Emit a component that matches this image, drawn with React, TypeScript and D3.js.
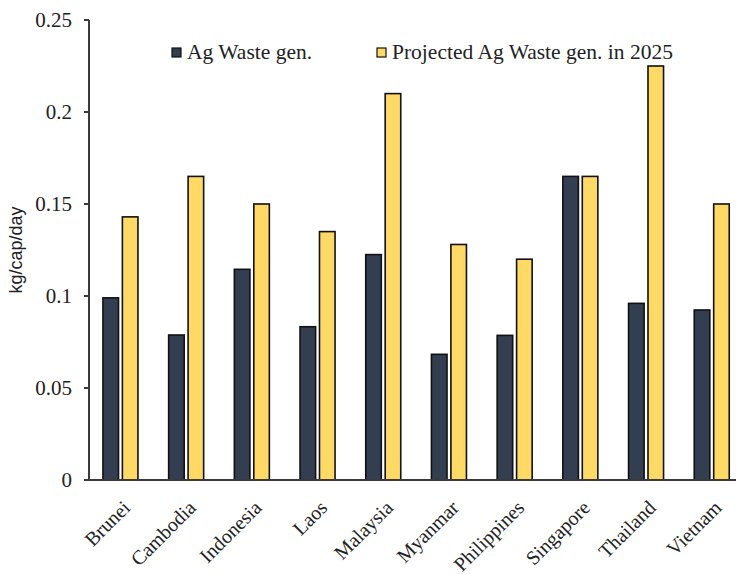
import React from "react";
import * as d3 from "d3";

const countries = ["Brunei", "Cambodia", "Indonesia", "Laos", "Malaysia", "Myanmar", "Philippines", "Singapore", "Thailand", "Vietnam"];
const seriesNames = ["Ag Waste gen.", "Projected Ag Waste gen. in 2025"];
const agWaste = [0.099, 0.0788, 0.1145, 0.0833, 0.1225, 0.0683, 0.0786, 0.165, 0.096, 0.0924];
const projected2025 = [0.143, 0.165, 0.15, 0.135, 0.21, 0.128, 0.12, 0.165, 0.225, 0.15];
const yTicks = [0, 0.05, 0.1, 0.15, 0.2, 0.25];
const yTickLabels = ["0", "0.05", "0.1", "0.15", "0.2", "0.25"];
const colors = ["#333F50", "#FFD966"];

const W = 736;
const H = 574;
const axisX = 89;
const serif = "'Liberation Serif', 'Times New Roman', serif";

export default function App() {
  const y = d3.scaleLinear().domain([0, 0.25]).range([480, 20]);
  const x = d3.scaleBand<string>().domain(countries).range([87.6, 744.6]).padding(0);
  const groupW = 35;
  const sub = d3.scaleBand<string>().domain(seriesNames).range([0, groupW]).paddingInner(0.2);
  const series = [agWaste, projected2025];
  const axisColor = "#3a3a3a";

  return (
    <svg width={W} height={H} style={{ position: "absolute", left: 0, top: 0, background: "#fff" }}>
      {/* bars */}
      {countries.map((c, i) => {
        const cx = (x(c) ?? 0) + x.bandwidth() / 2;
        return (
          <g key={c}>
            {series.map((vals, s) => (
              <rect
                key={s}
                x={cx - groupW / 2 + (sub(seriesNames[s]) ?? 0)}
                y={y(vals[i])}
                width={sub.bandwidth()}
                height={y(0) - y(vals[i])}
                fill={colors[s]}
                stroke="#111"
                strokeWidth={1.6}
              />
            ))}
          </g>
        );
      })}

      {/* y axis */}
      <line x1={axisX} x2={axisX} y1={y(0.25)} y2={y(0)} stroke={axisColor} strokeWidth={2} />
      {yTicks.map((t, i) => (
        <g key={t}>
          <line x1={axisX - 5} x2={axisX} y1={y(t)} y2={y(t)} stroke={axisColor} strokeWidth={2} />
          <text
            x={72}
            y={y(t)}
            dy="0.35em"
            textAnchor="end"
            fontFamily={serif}
            fontSize={21}
            fill="#222"
          >
            {yTickLabels[i]}
          </text>
        </g>
      ))}

      {/* x axis */}
      <line x1={axisX - 5} x2={W} y1={y(0)} y2={y(0)} stroke={axisColor} strokeWidth={2} />
      {countries.map((c) => {
        const cx = (x(c) ?? 0) + x.bandwidth() / 2;
        return (
          <text
            key={c}
            transform={`translate(${cx + 6},${504}) rotate(-45)`}
            textAnchor="end"
            dy="0.35em"
            fontFamily={serif}
            fontSize={20}
            fill="#222"
          >
            {c}
          </text>
        );
      })}

      {/* y axis title */}
      <text
        transform={`translate(${22},${250}) rotate(-90)`}
        textAnchor="middle"
        fontFamily="'Liberation Sans', Arial, sans-serif"
        fontSize={18}
        fill="#222"
      >
        kg/cap/day
      </text>

      {/* legend */}
      {[172, 377].map((lx, s) => (
        <g key={s}>
          <rect x={lx} y={48} width={9} height={9} fill={colors[s]} stroke="#111" strokeWidth={1.2} />
          <text x={lx + 15} y={59} fontFamily={serif} fontSize={21.5} fill="#222">
            {seriesNames[s]}
          </text>
        </g>
      ))}
    </svg>
  );
}
